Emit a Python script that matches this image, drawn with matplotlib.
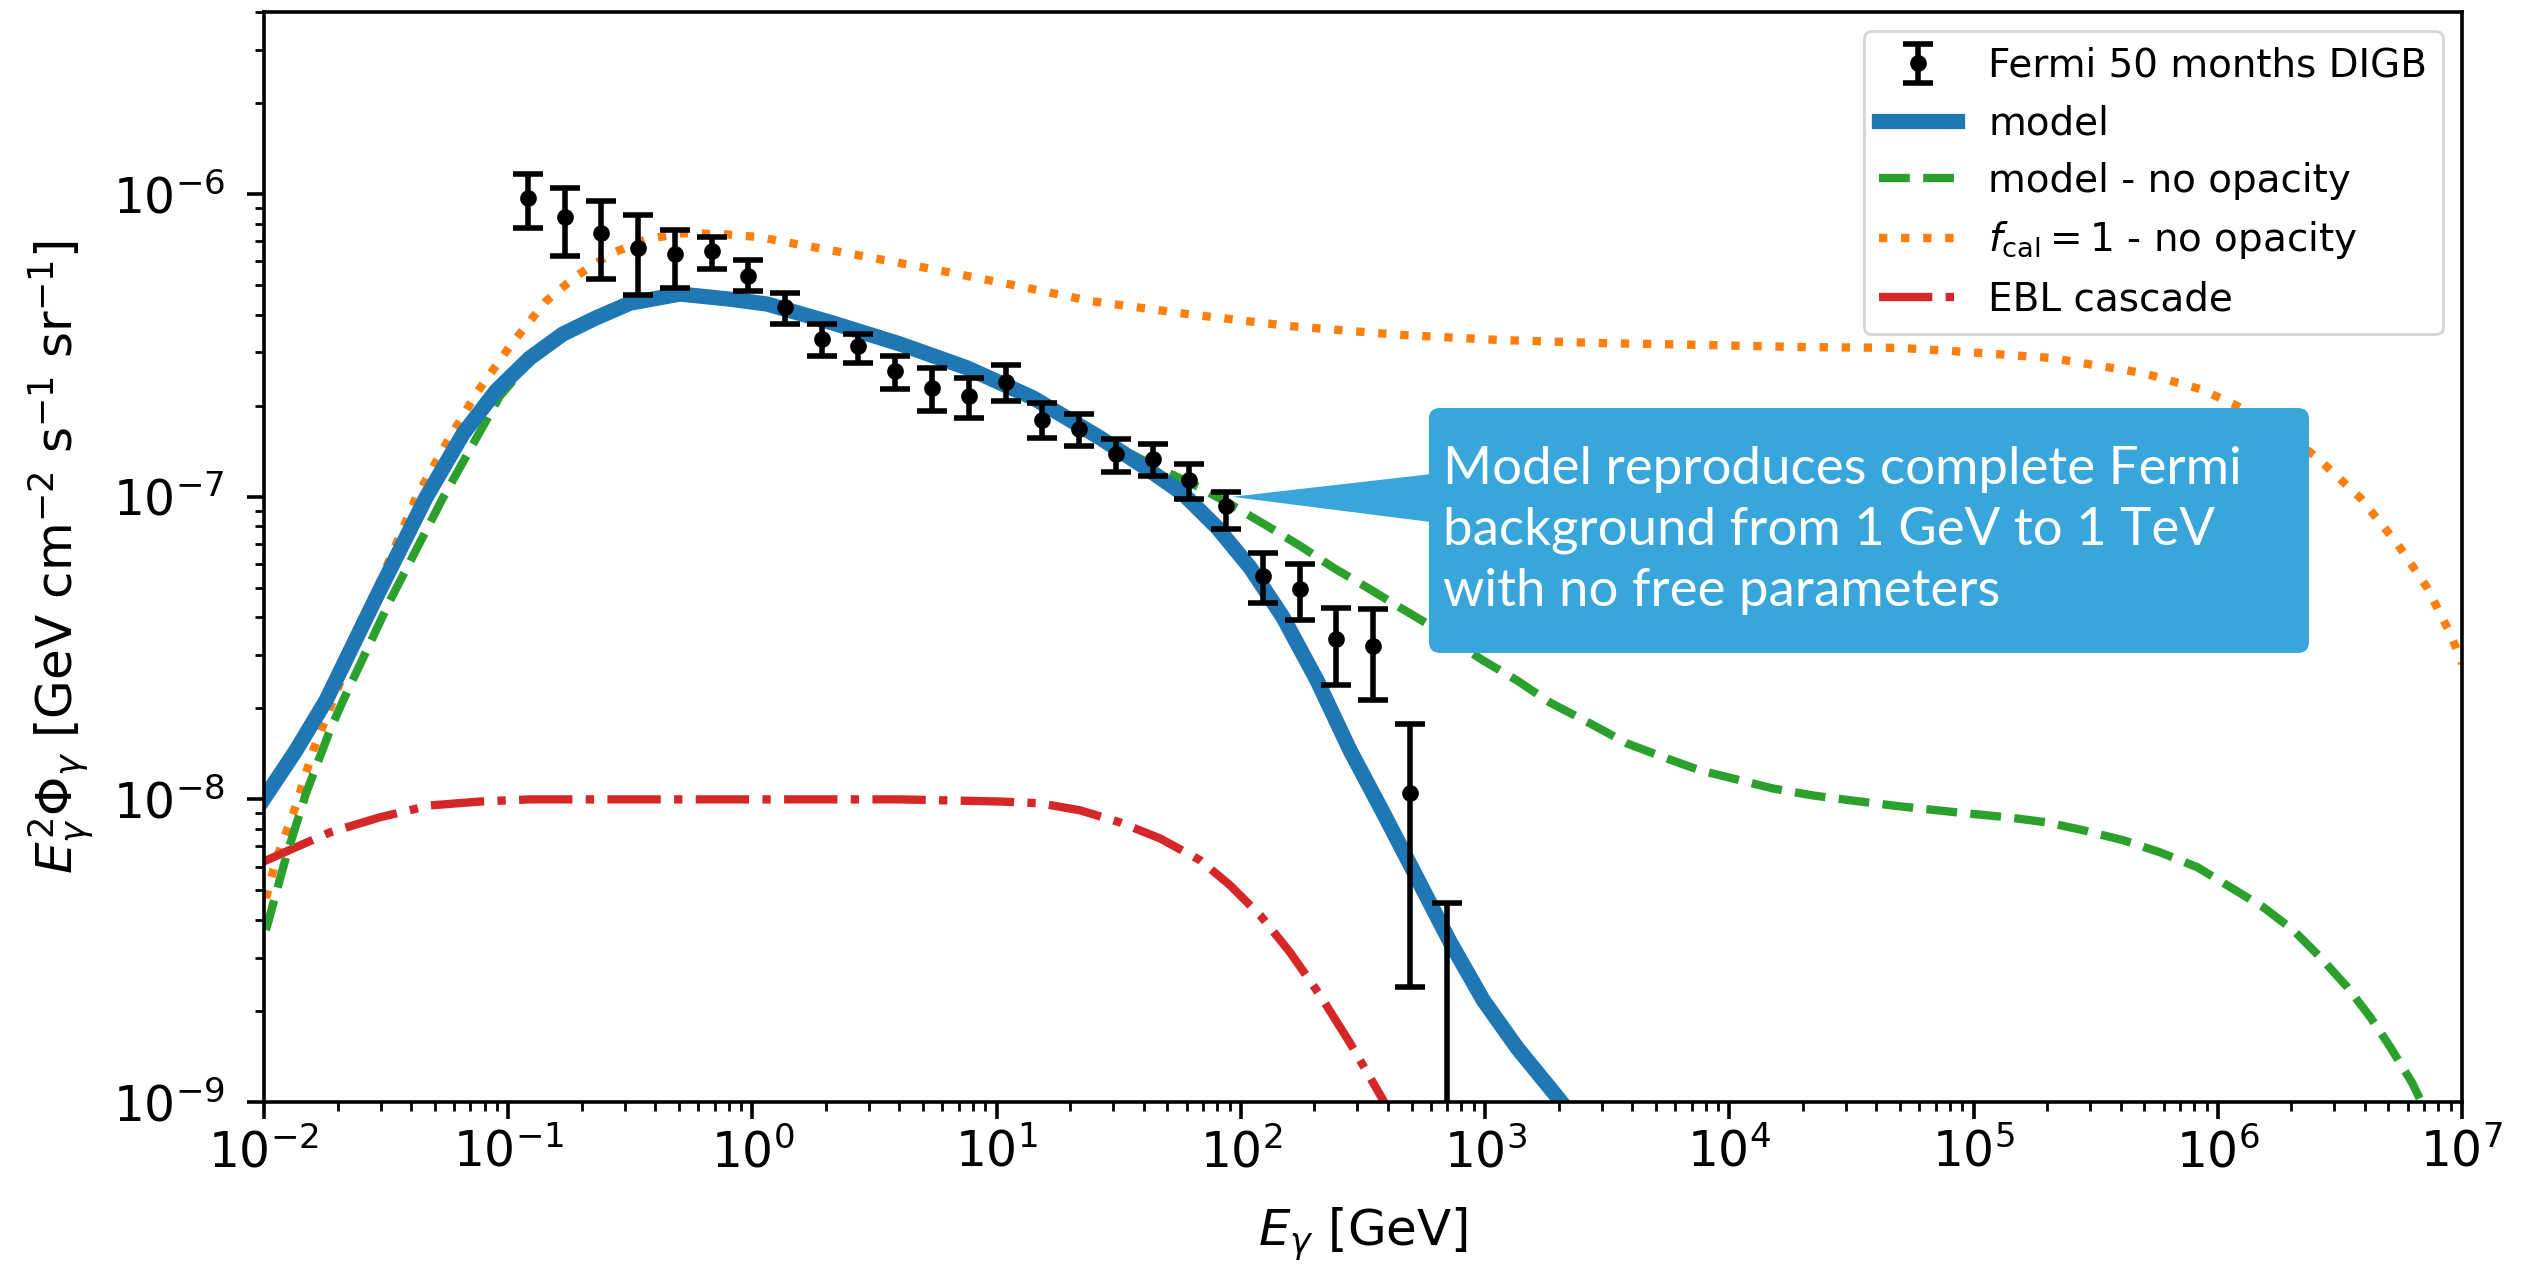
import numpy as np
import matplotlib
matplotlib.use('Agg')
import matplotlib.pyplot as plt
from matplotlib.patches import FancyBboxPatch, Polygon

# Fermi 50 months DIGB points (GeV, GeV cm^-2 s^-1 sr^-1)
fermi_E = [0.12, 0.17, 0.24, 0.34, 0.48, 0.68, 0.96, 1.36, 1.92, 2.71, 3.84, 5.43, 7.68,
           10.9, 15.4, 21.7, 30.7, 43.5, 61.4, 86.9, 123, 174, 246, 347, 491, 695]
fermi_flux = [0.972, 0.839, 0.745, 0.665, 0.632, 0.648, 0.538, 0.424, 0.332, 0.315, 0.260,
              0.229, 0.215, 0.239, 0.179, 0.168, 0.138, 0.133, 0.114, 0.0931, 0.0547,
              0.0494, 0.0338, 0.0321, 0.0105, 0.0005]
fermi_up = [1.163, 1.048, 0.953, 0.852, 0.764, 0.723, 0.604, 0.472, 0.371, 0.344, 0.293,
            0.267, 0.246, 0.273, 0.204, 0.188, 0.155, 0.149, 0.128, 0.104, 0.0652,
            0.0599, 0.0430, 0.0425, 0.0178, 0.00455]
fermi_lo = [0.772, 0.627, 0.523, 0.466, 0.489, 0.567, 0.478, 0.371, 0.291, 0.277, 0.227,
            0.192, 0.182, 0.208, 0.156, 0.147, 0.121, 0.117, 0.0987, 0.0781, 0.0447,
            0.0391, 0.0239, 0.0213, 0.0024, 0.0]

# curves, as log10(E/GeV), log10(flux)
model_logE = [-2.000, -1.869, -1.746, -1.541, -1.337, -1.185, -1.050, -0.911, -0.776, -0.641,
              -0.501, -0.296, -0.092, 0.060, 0.330, 0.604, 0.879, 1.149, 1.423, 1.628, 1.763,
              1.903, 2.038, 2.173, 2.312, 2.447, 2.582, 2.722, 2.857, 2.992, 3.131, 3.295, 3.369]
model_logF = [-7.997, -7.838, -7.673, -7.333, -7.003, -6.792, -6.650, -6.541, -6.462, -6.409,
              -6.360, -6.330, -6.347, -6.363, -6.426, -6.495, -6.574, -6.673, -6.805, -6.914,
              -6.990, -7.102, -7.234, -7.399, -7.607, -7.838, -8.043, -8.261, -8.472, -8.663,
              -8.821, -8.983, -9.06]

noopac_logE = [-1.992, -1.910, -1.828, -1.730, -1.676, -1.484, -1.267, -1.034, -0.911, -0.776,
               -0.641, -0.501, -0.296, -0.092, 0.060, 0.330, 0.604, 0.879, 1.149, 1.423, 1.669,
               1.833, 1.968, 2.107, 2.242, 2.378, 2.517, 2.652, 2.762, 2.992, 3.131, 3.266,
               3.430, 3.581, 3.745, 3.880, 4.015, 4.179, 4.343, 4.495, 4.699, 4.933, 5.138,
               5.301, 5.449, 5.613, 5.764, 5.916, 6.051, 6.186, 6.309, 6.419, 6.530, 6.624,
               6.706, 6.796, 6.849]
noopac_logF = [-8.432, -8.191, -7.980, -7.772, -7.673, -7.343, -7.003, -6.667, -6.551, -6.465,
               -6.409, -6.360, -6.330, -6.347, -6.363, -6.426, -6.495, -6.574, -6.673, -6.805,
               -6.908, -6.970, -7.030, -7.096, -7.162, -7.234, -7.300, -7.366, -7.419, -7.541,
               -7.607, -7.680, -7.749, -7.815, -7.865, -7.904, -7.931, -7.964, -7.987, -8.003,
               -8.023, -8.043, -8.059, -8.076, -8.102, -8.135, -8.175, -8.224, -8.290, -8.356,
               -8.432, -8.521, -8.620, -8.719, -8.818, -8.937, -9.026]

fcal_logE = [-1.992, -1.951, -1.869, -1.799, -1.738, -1.566, -1.378, -1.255, -1.132, -0.993,
             -0.845, -0.722, -0.583, -0.436, -0.284, -0.120, 0.031, 0.113, 0.428, 0.740, 1.067,
             1.383, 1.780, 2.201, 2.652, 3.061, 3.471, 3.880, 4.290, 4.699, 4.904, 5.314,
             5.694, 5.928, 6.063, 6.256, 6.407, 6.583, 6.735, 6.857, 6.952, 7.001]
fcal_logF = [-8.327, -8.201, -8.020, -7.838, -7.716, -7.360, -7.003, -6.825, -6.660, -6.502,
             -6.353, -6.271, -6.198, -6.149, -6.129, -6.132, -6.142, -6.155, -6.201, -6.248,
             -6.300, -6.353, -6.396, -6.436, -6.465, -6.482, -6.492, -6.498, -6.505, -6.508,
             -6.518, -6.541, -6.591, -6.644, -6.693, -6.776, -6.871, -7.003, -7.155, -7.300,
             -7.452, -7.551]

ebl_logE = [-2.000, -1.869, -1.730, -1.525, -1.320, -1.115, -0.911, 0.043, 0.604, 1.014, 1.178,
            1.341, 1.505, 1.669, 1.833, 1.956, 2.079, 2.201, 2.324, 2.447, 2.582, 2.611]
ebl_logF = [-8.205, -8.158, -8.109, -8.059, -8.020, -8.007, -8.000, -8.000, -8.000, -8.007,
            -8.013, -8.036, -8.076, -8.129, -8.201, -8.284, -8.383, -8.505, -8.647, -8.805,
            -8.993, -9.043]

note = 'Model reproduces complete Fermi\nbackground from 1 GeV to 1 TeV\nwith no free parameters'

W, H = 2533, 1264
fig = plt.figure(figsize=(W / 200, H / 200), dpi=200)
ax = fig.add_axes([264 / W, 162 / H, 2198 / W, 1090 / H])

fy = np.array(fermi_flux) * 1e-6
yerr = [fy - np.array(fermi_lo) * 1e-6, np.array(fermi_up) * 1e-6 - fy]

l_fcal, = ax.plot(10 ** np.array(fcal_logE), 10 ** np.array(fcal_logF), ':', color='tab:orange', lw=3)
l_ebl, = ax.plot(10 ** np.array(ebl_logE), 10 ** np.array(ebl_logF), '-.', color='tab:red', lw=3)
l_noop, = ax.plot(10 ** np.array(noopac_logE), 10 ** np.array(noopac_logF), '--', color='tab:green', lw=3)
l_model, = ax.plot(10 ** np.array(model_logE), 10 ** np.array(model_logF), '-', color='tab:blue', lw=5.5)
eb = ax.errorbar(fermi_E, fy, yerr=yerr, fmt='o', color='k', ms=5, capsize=5.5,
                 elinewidth=2, capthick=2, zorder=4)

ax.set_xscale('log')
ax.set_yscale('log')
ax.set_xlim(1e-2, 1e7)
ax.set_ylim(1e-9, 4e-6)
ax.set_xlabel(r'$E_\gamma$ [GeV]', fontsize=18, labelpad=10.5)
ax.set_ylabel(r'$E_\gamma^2\Phi_\gamma$ [GeV cm$^{-2}$ s$^{-1}$ sr$^{-1}$]', fontsize=18, labelpad=6)
ax.tick_params(which='major', length=6, width=1.3, labelsize=17.5)
ax.tick_params(which='minor', length=3.4, width=1.0)
ax.tick_params(axis='y', which='major', pad=8)
for s in ax.spines.values():
    s.set_linewidth(1.3)

ax.legend([eb, l_model, l_noop, l_fcal, l_ebl],
          ['Fermi 50 months DIGB', 'model', 'model - no opacity',
           r'$f_{\rm cal} = 1$ - no opacity', 'EBL cascade'],
          loc='upper right', fontsize=14)

# callout box
box_c = '#38a6db'
bx0, by0, bx1, by1 = 0.530, 0.412, 0.9304, 0.6367
box = FancyBboxPatch((bx0, by0), bx1 - bx0, by1 - by0,
                     boxstyle='round,pad=0,rounding_size=0.005', mutation_aspect=2198 / 1090,
                     transform=ax.transAxes, fc=box_c, ec='none', zorder=6)
ax.add_patch(box)
tip = ax.transAxes.inverted().transform(ax.transData.transform((92, 1.0e-7)))
wedge = Polygon([[bx0 + 0.005, 0.577], [bx0 + 0.005, 0.531], tip], closed=True,
                transform=ax.transAxes, fc=box_c, ec='none', zorder=6)
ax.add_patch(wedge)
ax.text(0.5364, 0.5243, note, transform=ax.transAxes, ha='left', va='center',
        color='white', fontsize=19, family='Lato', linespacing=1.35, zorder=7)

fig.savefig('out.png', dpi=200)
